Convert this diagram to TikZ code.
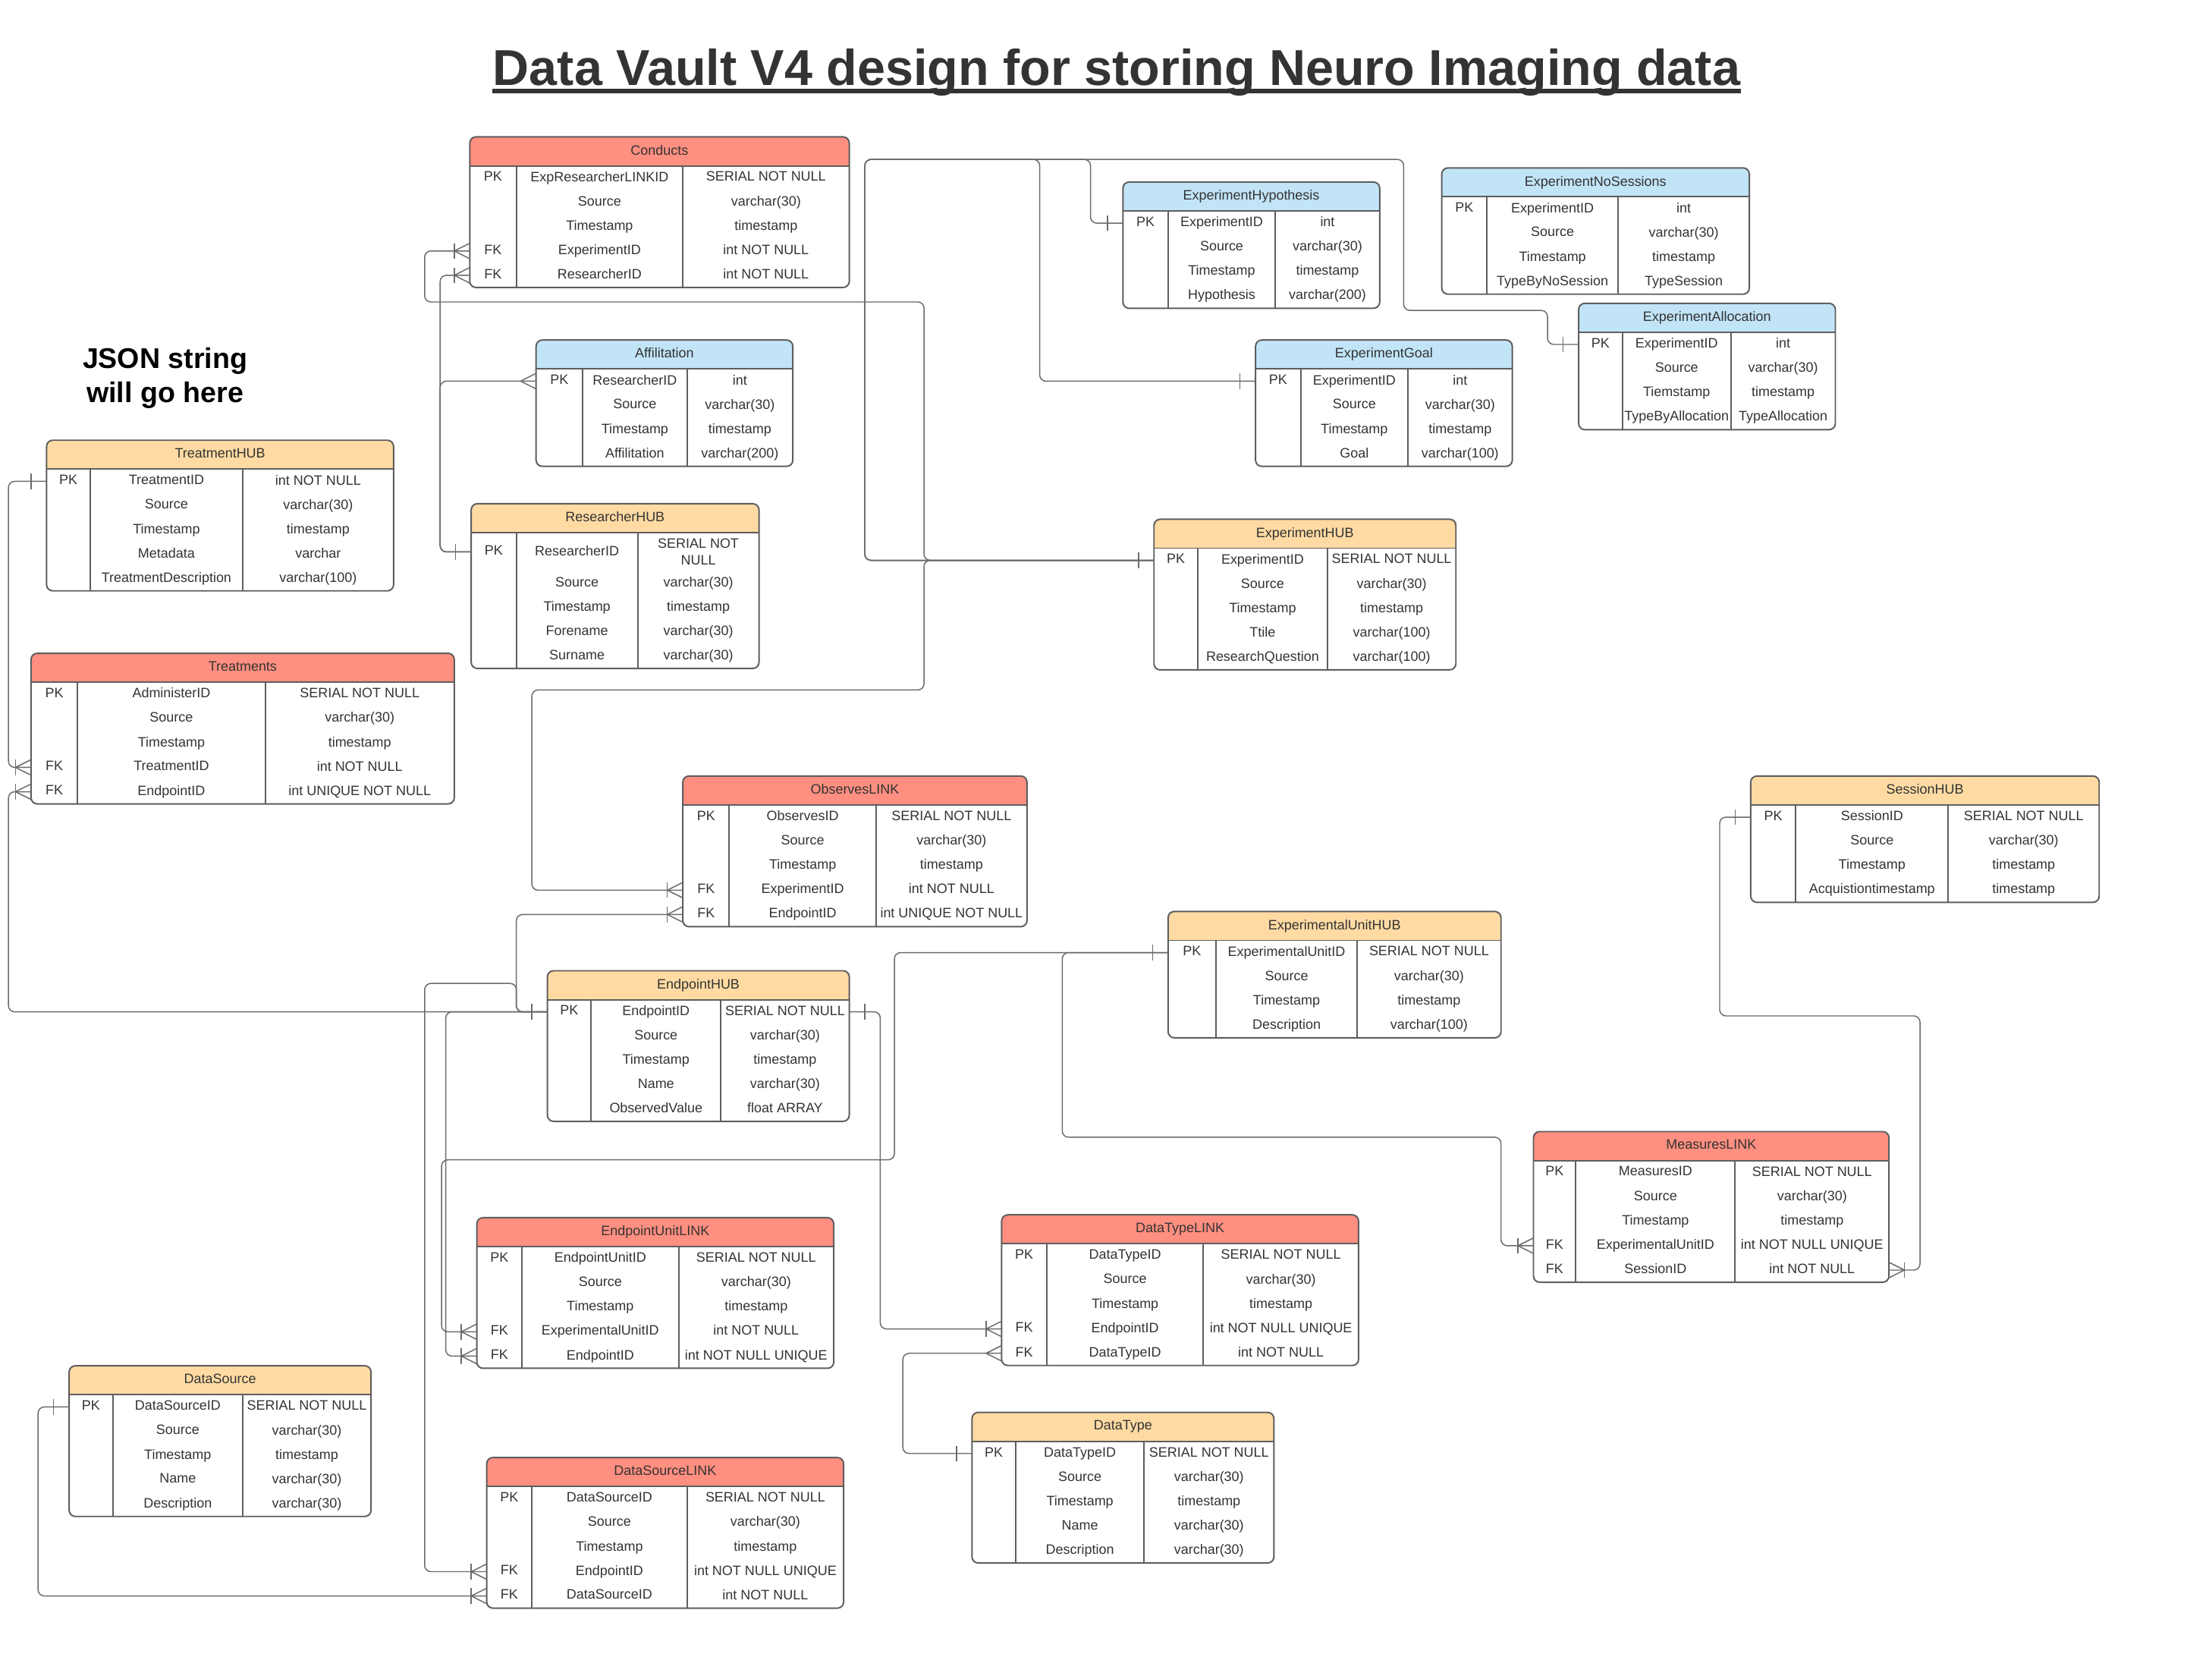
\documentclass[tikz,border=0pt]{standalone}
\usepackage{fontspec}
\setmainfont{Liberation Sans}

\definecolor{hubfill}{HTML}{FFDBA3}
\definecolor{linkfill}{HTML}{FF8F80}
\definecolor{satfill}{HTML}{C1E4F7}
\definecolor{textgray}{HTML}{333333}
\definecolor{framegray}{HTML}{5E5E5E}
\definecolor{wiregray}{HTML}{6B6B6B}

\newcommand{\cellfont}{\fontsize{5.5}{6.6}\selectfont}
\newcommand{\pkextra}{0}

\tikzset{
  cell/.style={font=\cellfont, text=textgray, inner sep=0pt, align=center},
  tblframe/.style={draw=framegray, line width=0.6pt, rounded corners=2.5pt},
  wire/.style={draw=wiregray, line width=0.45pt, rounded corners=2.5pt},
  crowmark/.style={draw=wiregray, line width=0.45pt},
}

% #1 name, #2 left, #3 top, #4-#6 column widths, #7 header fill, #8 title, #9 rows
\newcommand{\ertable}[9]{%
  \pgfmathsetmacro{\xa}{#2+#4}%
  \pgfmathsetmacro{\xb}{\xa+#5}%
  \pgfmathsetmacro{\xc}{\xb+#6}%
  \pgfmathsetmacro{\yh}{#3+20.5}%
  \foreach \rr [count=\rc] in {#9} {\xdef\nrows{\rc}}%
  \pgfmathsetmacro{\yb}{\yh+\nrows*17.25+\pkextra}%
  \begin{scope}
    \clip (#2,#3) rectangle (\xc,\yh);
    \fill[#7, rounded corners=2.5pt] (#2,#3) rectangle (\xc,\yb);
  \end{scope}
  \draw[tblframe] (#2,#3) rectangle (\xc,\yb);
  \draw[framegray, line width=0.6pt] (#2,\yh) -- (\xc,\yh)
    (\xa,\yh) -- (\xa,\yb) (\xb,\yh) -- (\xb,\yb);
  \node[cell] (#1) at ({(#2+\xc)/2},{(#3+\yh)/2}) {\vphantom{Tp}#8};
  \foreach \rk/\rn/\rt [count=\i] in {#9} {
    \pgfmathsetmacro{\ym}{\yh+(\i-0.5)*17.25+(\i>1 ? \pkextra : \pkextra/2)}
    \node[cell] (#1-\i-k) at ({(#2+\xa)/2},\ym) {\vphantom{Tp}\rk};
    \node[cell] (#1-\i-n) at ({(\xa+\xb)/2},\ym) {\vphantom{Tp}\rn};
    \node[cell] (#1-\i-t) at ({(\xb+\xc)/2},\ym) {\vphantom{Tp}\rt};
    \coordinate (#1-\i-l) at (#2,\ym);
    \coordinate (#1-\i-r) at (\xc,\ym);
  }
}

% #1 row end, #2 side (1 = wire leaves to the left, -1 = to the right)
\newcommand{\mkone}[2]{\draw[crowmark] (#1) ++({-11*(#2)},-5.5) -- ++(0,11);}
\newcommand{\mkmany}[2]{\draw[crowmark] (#1) ++(0,-5.5) -- ++({-11*(#2)},5.5) -- ++({11*(#2)},5.5);}
\newcommand{\mkbarmany}[2]{\mkmany{#1}{#2}\mkone{#1}{#2}}

\begin{document}
\begin{tikzpicture}
          [x=0.02cm, y=-0.02cm]
          \fill[white] (0,0) rectangle (1568,1174);

          \node[font=\bfseries\fontsize{20.35}{24}\selectfont, text=textgray, inner sep=0pt, anchor=base]
            (title) at (791.5,60.6) {Data Vault V4 design for storing Neuro Imaging data};
          \draw[textgray, line width=1.7pt] ([yshift=-2.2pt]title.base west) -- ([yshift=-2.2pt]title.base east);
          \node[font=\bfseries\fontsize{11.5}{13.5}\selectfont, align=center, inner sep=0pt]
            (json) at (117,268) {JSON string\\will go here};

          \ertable{cond}{333}{97}{33}{118}{118}{linkfill}{Conducts}
            {PK/ExpResearcherLINKID/SERIAL NOT NULL, /Source/varchar(30), /Timestamp/timestamp,
             FK/ExperimentID/int NOT NULL, FK/ResearcherID/int NOT NULL}
          \ertable{hyp}{796}{129}{32}{76}{74}{satfill}{ExperimentHypothesis}
            {PK/ExperimentID/int, /Source/varchar(30), /Timestamp/timestamp, /Hypothesis/varchar(200)}
          \ertable{nos}{1022}{119}{32}{93}{93}{satfill}{ExperimentNoSessions}
            {PK/ExperimentID/int, /Source/varchar(30), /Timestamp/timestamp, /TypeByNoSession/TypeSession}
          \ertable{alloc}{1119}{215}{31}{77}{74}{satfill}{ExperimentAllocation}
            {PK/ExperimentID/int, /Source/varchar(30), /Tiemstamp/timestamp, /TypeByAllocation/TypeAllocation}
          \ertable{affil}{380}{241}{33}{74}{75}{satfill}{Affilitation}
            {PK/ResearcherID/int, /Source/varchar(30), /Timestamp/timestamp, /Affilitation/varchar(200)}
          \ertable{goal}{890}{241}{32}{76}{74}{satfill}{ExperimentGoal}
            {PK/ExperimentID/int, /Source/varchar(30), /Timestamp/timestamp, /Goal/varchar(100)}
          \ertable{treathub}{33}{312}{31}{108}{107}{hubfill}{TreatmentHUB}
            {PK/TreatmentID/int NOT NULL, /Source/varchar(30), /Timestamp/timestamp, /Metadata/varchar,
             /TreatmentDescription/varchar(100)}
          \renewcommand{\pkextra}{10}
          \ertable{reshub}{334}{357}{32}{86}{86}{hubfill}{ResearcherHUB}
            {PK/ResearcherID/SERIAL NOT\\NULL, /Source/varchar(30), /Timestamp/timestamp,
             /Forename/varchar(30), /Surname/varchar(30)}
          \renewcommand{\pkextra}{0}
          \ertable{exphub}{818}{368}{31}{92}{91}{hubfill}{ExperimentHUB}
            {PK/ExperimentID/SERIAL NOT NULL, /Source/varchar(30), /Timestamp/timestamp,
             /Ttile/varchar(100), /ResearchQuestion/varchar(100)}
          \ertable{treat}{22}{463}{33}{133}{134}{linkfill}{Treatments}
            {PK/AdministerID/SERIAL NOT NULL, /Source/varchar(30), /Timestamp/timestamp,
             FK/TreatmentID/int NOT NULL, FK/EndpointID/int UNIQUE NOT NULL}
          \ertable{obs}{484}{550}{33}{104}{107}{linkfill}{ObservesLINK}
            {PK/ObservesID/SERIAL NOT NULL, /Source/varchar(30), /Timestamp/timestamp,
             FK/ExperimentID/int NOT NULL, FK/EndpointID/int UNIQUE NOT NULL}
          \ertable{seshub}{1241}{550}{32}{108}{107}{hubfill}{SessionHUB}
            {PK/SessionID/SERIAL NOT NULL, /Source/varchar(30), /Timestamp/timestamp,
             /Acquistiontimestamp/timestamp}
          \ertable{euhub}{828}{646}{34}{100}{102}{hubfill}{ExperimentalUnitHUB}
            {PK/ExperimentalUnitID/SERIAL NOT NULL, /Source/varchar(30), /Timestamp/timestamp,
             /Description/varchar(100)}
          \ertable{endhub}{388}{688}{31}{92}{91}{hubfill}{EndpointHUB}
            {PK/EndpointID/SERIAL NOT NULL, /Source/varchar(30), /Timestamp/timestamp,
             /Name/varchar(30), /ObservedValue/float ARRAY}
          \ertable{mea}{1087}{802}{30}{113}{109}{linkfill}{MeasuresLINK}
            {PK/MeasuresID/SERIAL NOT NULL, /Source/varchar(30), /Timestamp/timestamp,
             FK/ExperimentalUnitID/int NOT NULL UNIQUE, FK/SessionID/int NOT NULL}
          \ertable{eul}{338}{863}{32}{111}{110}{linkfill}{EndpointUnitLINK}
            {PK/EndpointUnitID/SERIAL NOT NULL, /Source/varchar(30), /Timestamp/timestamp,
             FK/ExperimentalUnitID/int NOT NULL, FK/EndpointID/int NOT NULL UNIQUE}
          \ertable{dtl}{710}{861}{32}{111}{110}{linkfill}{DataTypeLINK}
            {PK/DataTypeID/SERIAL NOT NULL, /Source/varchar(30), /Timestamp/timestamp,
             FK/EndpointID/int NOT NULL UNIQUE, FK/DataTypeID/int NOT NULL}
          \ertable{ds}{49}{968}{31}{92}{91}{hubfill}{DataSource}
            {PK/DataSourceID/SERIAL NOT NULL, /Source/varchar(30), /Timestamp/timestamp,
             /Name/varchar(30), /Description/varchar(30)}
          \ertable{dt}{689}{1001}{31}{91}{92}{hubfill}{DataType}
            {PK/DataTypeID/SERIAL NOT NULL, /Source/varchar(30), /Timestamp/timestamp,
             /Name/varchar(30), /Description/varchar(30)}
          \ertable{dsl}{345}{1033}{32}{110}{111}{linkfill}{DataSourceLINK}
            {PK/DataSourceID/SERIAL NOT NULL, /Source/varchar(30), /Timestamp/timestamp,
             FK/EndpointID/int NOT NULL UNIQUE, FK/DataSourceID/int NOT NULL}

          \draw[wire] (treathub-1-l) -- ++(-27,0) |- (treat-4-l);
          \draw[wire] (treat-5-l) -- ++(-16,0) |- (endhub-1-l);
          \draw[wire] (cond-5-l) -- ++(-21,0) |- (reshub-1-l);
          \draw[wire] (reshub-1-l) -- ++(-22,0) |- (affil-1-l);
          \draw[wire] (exphub-1-l) -| (613,113) -- (773,113) |- (hyp-1-l);
          \draw[wire] (exphub-1-l) -| (613,113) -- (737,113) |- (goal-1-l);
          \draw[wire] (exphub-1-l) -| (613,113) -- (995,113) |- (1097,220) |- (alloc-1-l);
          \draw[wire] (cond-4-l) -- ++(-32,0) |- (655,214) |- (exphub-1-l);
          \draw[wire] (obs-4-l) -- ++(-107,0) |- (655,489) |- (exphub-1-l);
          \draw[wire] (obs-5-l) -- ++(-118,0) |- (endhub-1-l);
          \draw[wire] (endhub-1-l) -| (366,697) -- (301,697) |- (dsl-4-l);
          \draw[wire] (endhub-1-l) -- ++(-72,0) |- (eul-5-l);
          \draw[wire] (endhub-1-r) -- ++(22,0) |- (dtl-4-l);
          \draw[wire] (euhub-1-l) -| (634,822) -- (313,822) |- (eul-4-l);
          \draw[wire] (euhub-1-l) -| (753,806) -- (1064,806) |- (mea-4-l);
          \draw[wire] (seshub-1-l) -| (1219,720) -- (1361,720) |- (mea-5-r);
          \draw[wire] (dtl-5-l) -- ++(-70,0) |- (dt-1-l);
          \draw[wire] (ds-1-l) -- ++(-22,0) |- (dsl-5-l);

          \foreach \e in {treathub-1-l, endhub-1-l, reshub-1-l, exphub-1-l, hyp-1-l, goal-1-l,
                          alloc-1-l, euhub-1-l, seshub-1-l, dt-1-l, ds-1-l}
            {\mkone{\e}{1}}
          \mkone{endhub-1-r}{-1}
          \foreach \e in {treat-4-l, treat-5-l, cond-4-l, cond-5-l, obs-4-l, obs-5-l, eul-4-l,
                          eul-5-l, dtl-4-l, mea-4-l, dsl-4-l, dsl-5-l}
            {\mkbarmany{\e}{1}}
          \mkbarmany{mea-5-r}{-1}
          \mkmany{affil-1-l}{1}
          \mkmany{dtl-5-l}{1}
        \end{tikzpicture}
\end{document}
